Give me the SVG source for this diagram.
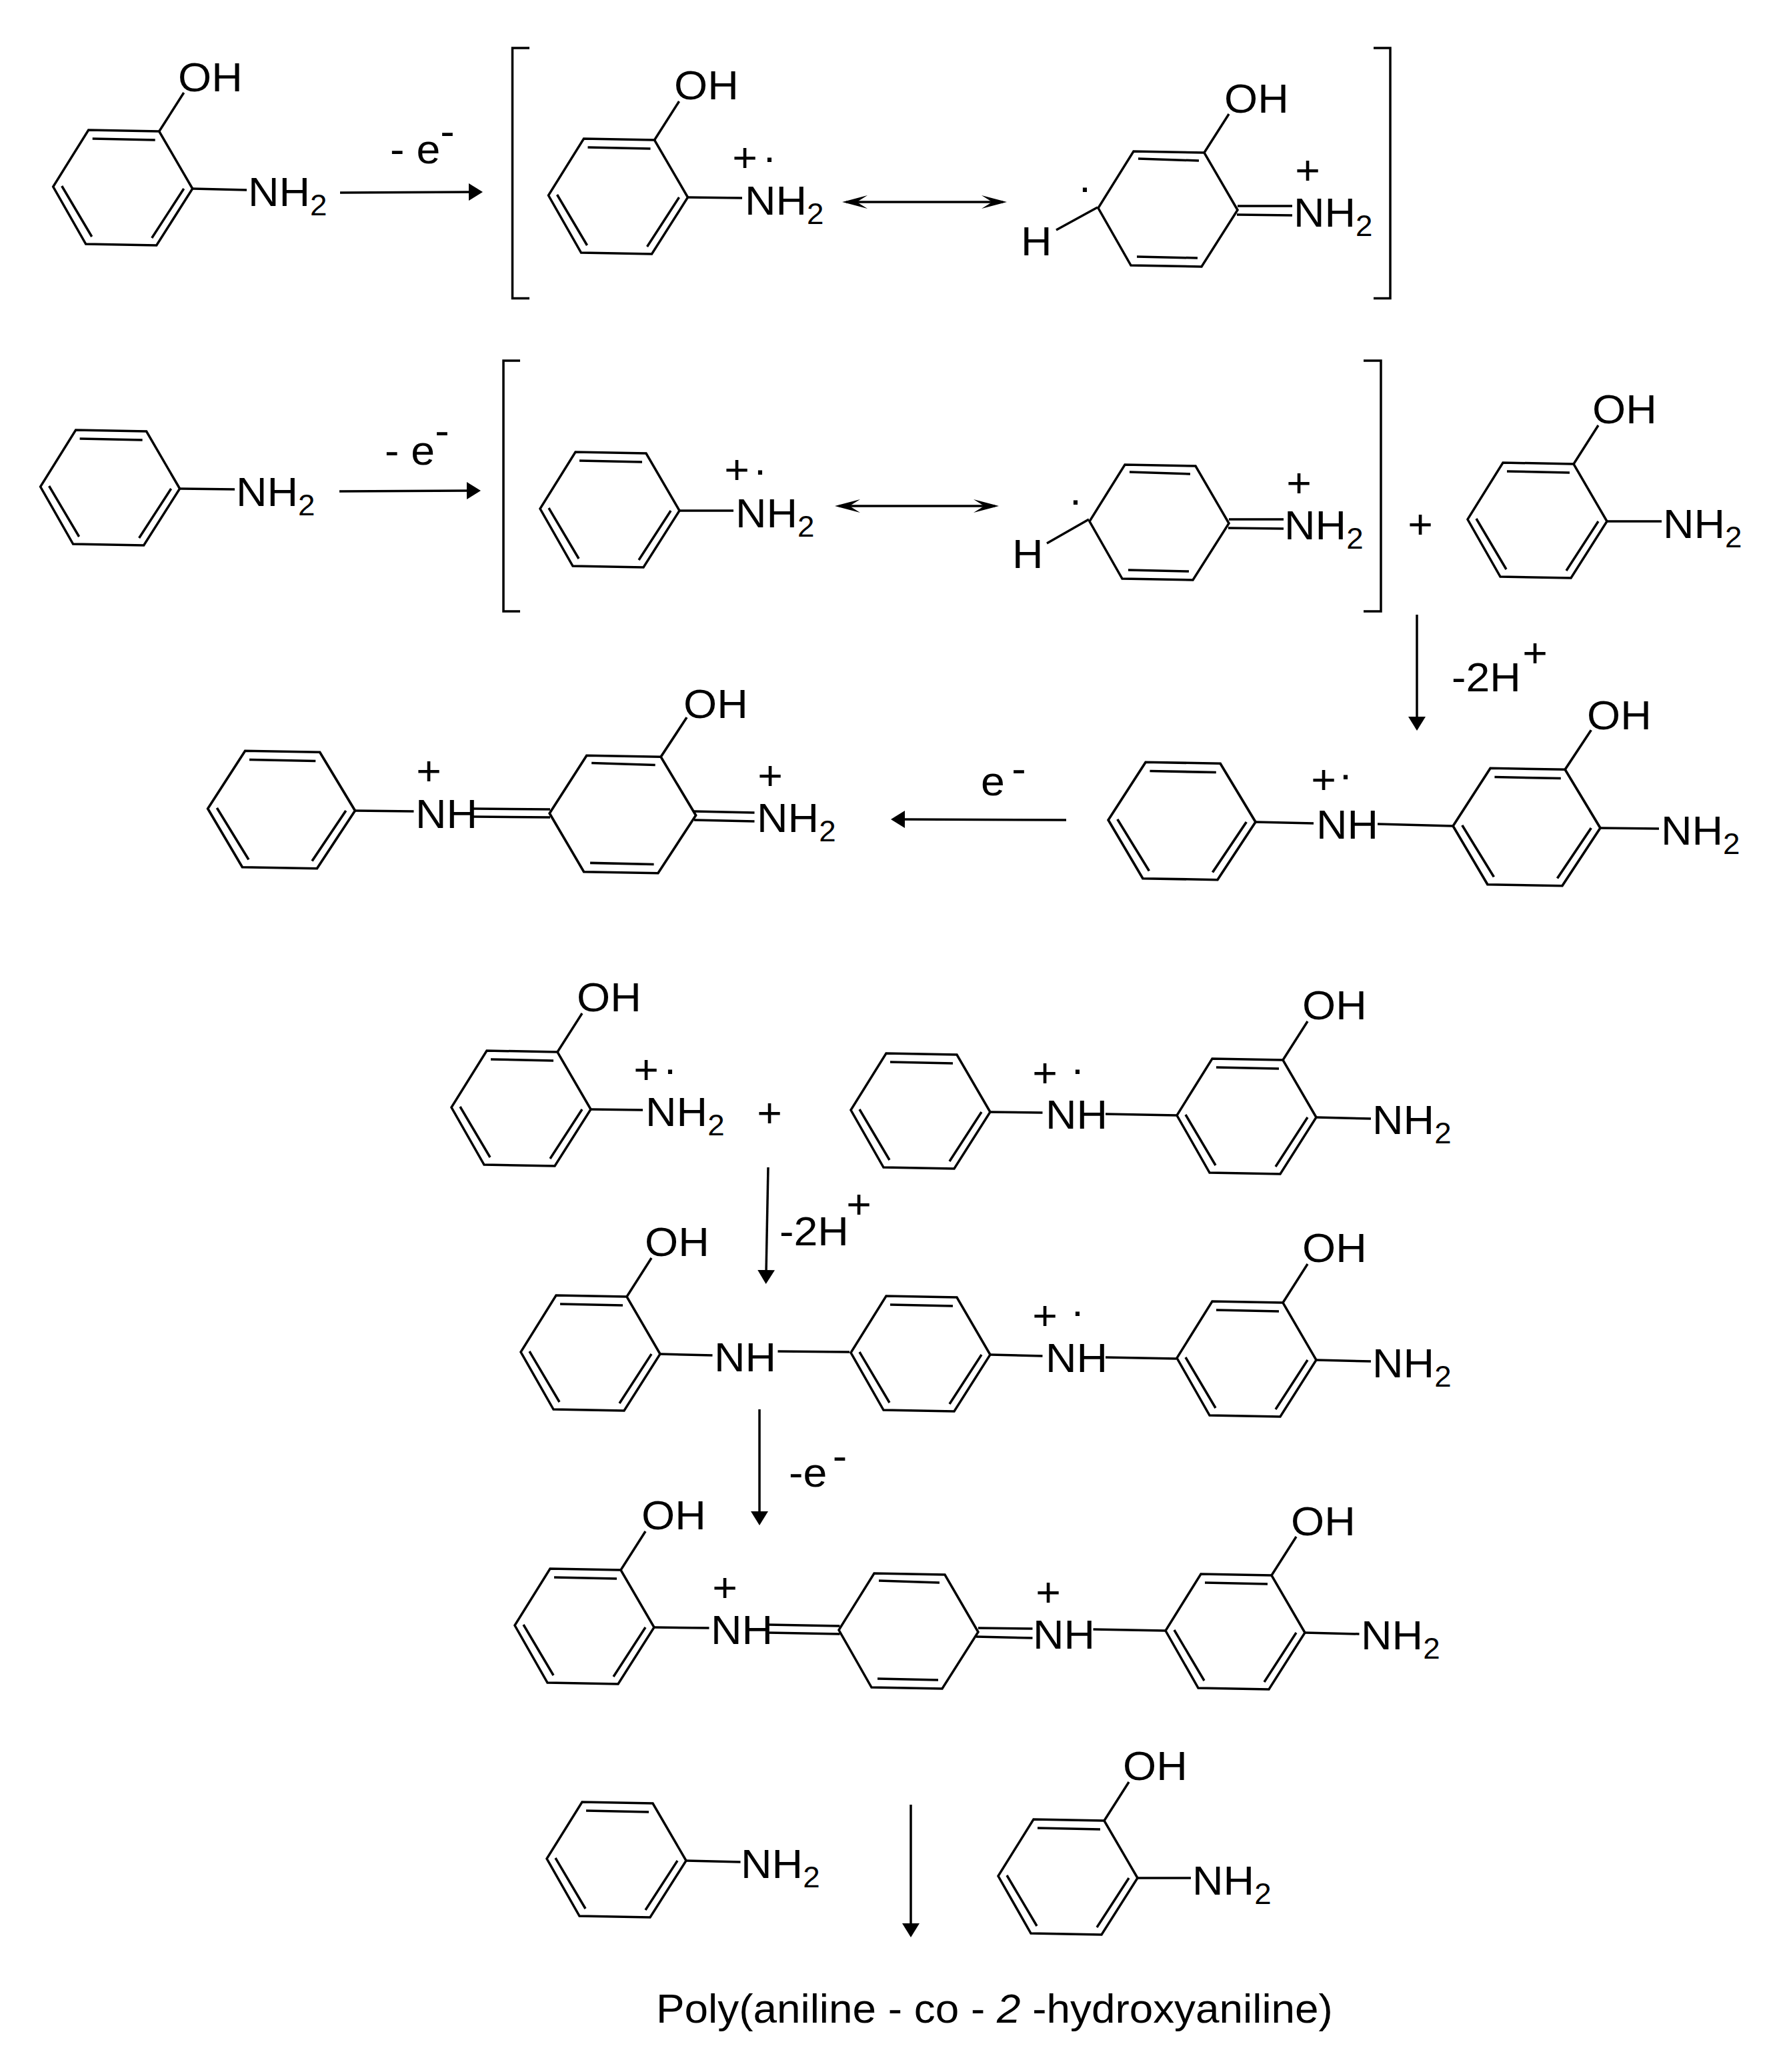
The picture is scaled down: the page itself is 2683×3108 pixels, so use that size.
<svg xmlns="http://www.w3.org/2000/svg" width="2683" height="3108" viewBox="0 0 2683 3108">
<style>
.b{fill:none;stroke:#000;stroke-width:3.5}
.a{fill:none;stroke:#000;stroke-width:3.5}
.t{font-family:"Liberation Sans",Arial,sans-serif;font-size:62px;fill:#000;transform-box:fill-box;transform-origin:0 0;transform:scaleX(1.04)}
.m{text-anchor:middle;transform-origin:50% 0}
.s{font-size:44px}
</style>
<defs>
<g id="benzene" class="b"><path d="M0,0L-50,-86L-156,-88L-209,-3L-160,83L-54,85Z"/><path d="M-150,-75L-56,-73M-196,-4L-151,72M-13,0L-61,74"/></g>
<g id="quinoid" class="b"><path d="M0,0L-50,-86L-156,-88L-209,-3L-160,83L-54,85Z"/><path d="M-149,-77L-58,-74M-151,70L-60,72"/></g>
<path id="oh" class="b" d="M-50,-86L-13,-144"/>
<marker id="head" markerUnits="userSpaceOnUse" viewBox="0 0 21 26" markerWidth="21" markerHeight="26" refX="4" refY="13" orient="auto"><path d="M0,0L21,13L0,26Z" fill="#000"/></marker>
<marker id="barb" markerUnits="userSpaceOnUse" viewBox="0 0 38 20" markerWidth="38" markerHeight="20" refX="32" refY="10" orient="auto-start-reverse"><path d="M38,10L0,0L16,10L0,20Z" fill="#000"/></marker>
</defs>
<rect width="2683" height="3108" fill="#fff"/>

<g id="connectors">
<path class="a" marker-end="url(#head)" d="M510,289L707,288"/>
<path class="a" marker-end="url(#head)" d="M509,737L704,736"/>
<path class="a" marker-start="url(#barb)" marker-end="url(#barb)" d="M1269,303L1504,303"/>
<path class="a" marker-start="url(#barb)" marker-end="url(#barb)" d="M1258,759L1492,759"/>
<path class="a" marker-end="url(#head)" d="M2125,922L2125,1079"/>
<path class="a" marker-end="url(#head)" d="M1599,1230L1353,1229"/>
<path class="a" marker-end="url(#head)" d="M1152,1751L1149,1909"/>
<path class="a" marker-end="url(#head)" d="M1139,2114L1139,2271"/>
<path class="a" marker-end="url(#head)" d="M1366,2707L1366,2889"/>
</g>

<g id="bracket-1" class="b"><path d="M794,72L768.500,72L768.500,447.500L794,447.500"/><path d="M2060,72L2085,72L2085,447.500L2060,447.500"/></g>
<g id="bracket-2" class="b"><path d="M780,541L755,541L755,917L780,917"/><path d="M2045,541L2071,541L2071,917L2045,917"/></g>

<g id="mol-hydroxyaniline-1">
<use href="#benzene" x="288.700" y="283"/><use href="#oh" x="288.700" y="283"/>
<path class="b" d="M288.700,283L370,285"/>
<text class="t" x="267" y="137">OH</text>
<text class="t" x="372" y="309">NH<tspan class="s" dy="14">2</tspan></text>
</g>
<g id="label-e-1"><text class="t" x="585" y="245">- e<tspan dy="-27">-</tspan></text></g>

<g id="mol-radical-1a">
<use href="#benzene" x="1031.500" y="296"/><use href="#oh" x="1031.500" y="296"/>
<path class="b" d="M1031.500,296L1113,297"/>
<text class="t" x="1011" y="149">OH</text>
<text class="t" x="1117" y="322">NH<tspan class="s" dy="14">2</tspan></text>
<text class="t m" x="1117" y="257">+</text>
<text class="t m" x="1154" y="256">·</text>
</g>
<g id="mol-radical-1b">
<use href="#quinoid" x="1856" y="315"/><use href="#oh" x="1856" y="315"/>
<path class="b" d="M1856,309L1938,309M1855,322L1938,323M1646,311L1584,345"/>
<text class="t" x="1836" y="169">OH</text>
<text class="t" x="1940" y="340">NH<tspan class="s" dy="14">2</tspan></text>
<text class="t m" x="1961" y="276">+</text>
<text class="t m" x="1627" y="301">·</text>
<text class="t" x="1531" y="383">H</text>
</g>

<g id="mol-aniline-1">
<use href="#benzene" x="269.600" y="733"/>
<path class="b" d="M269.600,733L352,734"/>
<text class="t" x="354" y="759">NH<tspan class="s" dy="14">2</tspan></text>
</g>
<g id="label-e-2"><text class="t" x="577" y="697">- e<tspan dy="-30">-</tspan></text></g>

<g id="mol-radical-2a">
<use href="#benzene" x="1019" y="766"/>
<path class="b" d="M1019,766L1100,766"/>
<text class="t" x="1103" y="791">NH<tspan class="s" dy="14">2</tspan></text>
<text class="t m" x="1105" y="725">+</text>
<text class="t m" x="1140" y="725">·</text>
</g>
<g id="mol-radical-2b">
<use href="#quinoid" x="1843" y="785"/>
<path class="b" d="M1843,779L1925,779M1842,792L1925,793M1633,779L1570,815"/>
<text class="t" x="1926" y="809">NH<tspan class="s" dy="14">2</tspan></text>
<text class="t m" x="1948" y="745">+</text>
<text class="t m" x="1613" y="770">·</text>
<text class="t" x="1518" y="852">H</text>
</g>
<g id="plus-1"><text class="t m" x="2130" y="807">+</text></g>
<g id="mol-hydroxyaniline-2">
<use href="#benzene" x="2410" y="782"/><use href="#oh" x="2410" y="782"/>
<path class="b" d="M2410,782L2492,782"/>
<text class="t" x="2388" y="635">OH</text>
<text class="t" x="2494" y="807">NH<tspan class="s" dy="14">2</tspan></text>
</g>
<g id="label-2h-1"><text class="t" x="2177" y="1037">-2H</text><text class="t m" x="2302" y="1000">+</text></g>

<g id="mol-dimer-quinoid">
<use href="#benzene" transform="translate(532.500,1216) scale(1.057,1.02)"/>
<use href="#quinoid" transform="translate(1043.600,1223) scale(1.05,1.02)"/><use href="#oh" transform="translate(1043.600,1223) scale(1.05,1.02)"/>
<path class="b" d="M532.500,1216L620.500,1217M710,1213L825,1214M710,1225L825,1226M1041,1217L1131.500,1219M1041,1230L1131.500,1232"/>
<text class="t" x="623" y="1242">NH</text>
<text class="t m" x="643" y="1177">+</text>
<text class="t" x="1025" y="1077">OH</text>
<text class="t" x="1135" y="1248">NH<tspan class="s" dy="14">2</tspan></text>
<text class="t m" x="1155" y="1184">+</text>
</g>
<g id="label-e-3"><text class="t" x="1471" y="1193">e<tspan dx="10" dy="-19">-</tspan></text></g>

<g id="mol-dimer-radical">
<use href="#benzene" transform="translate(1883,1233) scale(1.057,1.02)"/>
<use href="#benzene" transform="translate(2400,1242) scale(1.057,1.02)"/><use href="#oh" transform="translate(2400,1242) scale(1.057,1.02)"/>
<path class="b" d="M1883,1233L1970,1235M2066,1236L2179,1239M2400,1242L2488,1243"/>
<text class="t" x="1974" y="1258">NH</text>
<text class="t m" x="1985" y="1190">+</text>
<text class="t m" x="2018" y="1182">·</text>
<text class="t" x="2380" y="1094">OH</text>
<text class="t" x="2491" y="1267">NH<tspan class="s" dy="14">2</tspan></text>
</g>

<g id="mol-radical-3">
<use href="#benzene" x="886" y="1664"/><use href="#oh" x="886" y="1664"/>
<path class="b" d="M886,1664L964,1665"/>
<text class="t" x="865" y="1517">OH</text>
<text class="t" x="968" y="1689">NH<tspan class="s" dy="14">2</tspan></text>
<text class="t m" x="969" y="1625">+</text>
<text class="t m" x="1005" y="1624">·</text>
</g>
<g id="plus-2"><text class="t m" x="1154" y="1690">+</text></g>
<g id="mol-dimer-radical-2">
<use href="#benzene" x="1485" y="1668"/>
<use href="#benzene" x="1974" y="1676"/><use href="#oh" x="1974" y="1676"/>
<path class="b" d="M1485,1668L1563.500,1669M1658,1671L1764.500,1673M1974,1676L2056,1678"/>
<text class="t" x="1568" y="1693">NH</text>
<text class="t m" x="1567" y="1630">+</text>
<text class="t m" x="1616" y="1624">·</text>
<text class="t" x="1953" y="1529">OH</text>
<text class="t" x="2058" y="1701">NH<tspan class="s" dy="14">2</tspan></text>
</g>
<g id="label-2h-2"><text class="t" x="1169" y="1868">-2H</text><text class="t m" x="1288" y="1827">+</text></g>

<g id="mol-trimer-radical">
<use href="#benzene" x="990" y="2031"/><use href="#oh" x="990" y="2031"/>
<use href="#benzene" x="1485" y="2032"/>
<use href="#benzene" x="1974" y="2040"/><use href="#oh" x="1974" y="2040"/>
<path class="b" d="M990,2031L1068.500,2033M1166.500,2027L1274,2028M1485,2032L1563.500,2034M1658,2036L1764.500,2038M1974,2040L2056,2042"/>
<text class="t" x="967" y="1884">OH</text>
<text class="t" x="1071" y="2057">NH</text>
<text class="t" x="1568" y="2058">NH</text>
<text class="t m" x="1567" y="1994">+</text>
<text class="t m" x="1616" y="1987">·</text>
<text class="t" x="1953" y="1893">OH</text>
<text class="t" x="2058" y="2066">NH<tspan class="s" dy="14">2</tspan></text>
</g>
<g id="label-e-4"><text class="t" x="1183" y="2230">-e<tspan dx="8" dy="-25">-</tspan></text></g>

<g id="mol-trimer-quinoid">
<use href="#benzene" x="981" y="2441"/><use href="#oh" x="981" y="2441"/>
<use href="#quinoid" x="1467" y="2448"/>
<use href="#benzene" x="1957" y="2449"/><use href="#oh" x="1957" y="2449"/>
<path class="b" d="M981,2441L1063.500,2442M1151.500,2437L1259.500,2439M1151.500,2449L1259.500,2451M1467,2442L1548.500,2443M1464,2455L1548.500,2457M1639.500,2444L1747.500,2446M1957,2449L2038.500,2451"/>
<text class="t" x="962" y="2294">OH</text>
<text class="t" x="1066" y="2466">NH</text>
<text class="t m" x="1087" y="2402">+</text>
<text class="t" x="1549" y="2473">NH</text>
<text class="t m" x="1572" y="2409">+</text>
<text class="t" x="1936" y="2303">OH</text>
<text class="t" x="2041" y="2474">NH<tspan class="s" dy="14">2</tspan></text>
</g>

<g id="mol-aniline-2">
<use href="#benzene" x="1029" y="2791"/>
<path class="b" d="M1029,2791L1110.500,2793"/>
<text class="t" x="1111" y="2817">NH<tspan class="s" dy="14">2</tspan></text>
</g>
<g id="mol-hydroxyaniline-3">
<use href="#benzene" x="1706" y="2817"/><use href="#oh" x="1706" y="2817"/>
<path class="b" d="M1706,2817L1786,2817"/>
<text class="t" x="1684" y="2670">OH</text>
<text class="t" x="1788" y="2842">NH<tspan class="s" dy="14">2</tspan></text>
</g>
<g id="label-product"><text class="t" style="transform:scaleX(1.03)" x="984" y="3034">Poly(aniline - co - <tspan font-style="italic">2</tspan> -hydroxyaniline)</text></g>
</svg>
